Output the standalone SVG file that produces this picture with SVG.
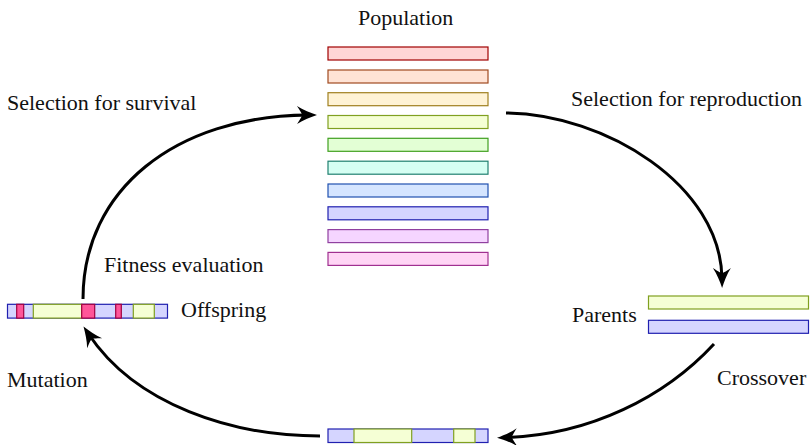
<svg xmlns="http://www.w3.org/2000/svg" width="811" height="445" viewBox="0 0 811 445">
<style>
text{font-family:'Liberation Serif','DejaVu Serif','Times New Roman',Times,serif;font-size:22px;fill:#111}
rect{stroke-width:1.2}
.c1{fill:#ffd5d5;stroke:#a00000}
.c2{fill:#ffe3d5;stroke:#a04a20}
.c3{fill:#fff3d5;stroke:#a08020}
.c4{fill:#f5ffd5;stroke:#80a020}
.c5{fill:#e3ffd5;stroke:#40a020}
.c6{fill:#d5fff3;stroke:#208070}
.c7{fill:#d5e5ff;stroke:#2050b0}
.c8{fill:#d5d5ff;stroke:#2020b0}
.c9{fill:#f5d5ff;stroke:#9040a0}
.c10{fill:#ffd5f5;stroke:#a03090}
.pk{fill:#ff5599;stroke:#a00040}
.arr{fill:none;stroke:#000;stroke-width:3}
</style>
<defs>
<marker id="ah" markerUnits="userSpaceOnUse" markerWidth="40" markerHeight="40" viewBox="-20 -20 40 40" refX="0" refY="0" orient="auto">
<path d="M9,0 C3,-2 -5,-5 -11,-9 C-7,-3 -6,-1 -6,0 C-6,1 -7,3 -11,9 C-5,5 3,2 9,0 Z" fill="#000"/>
</marker>
</defs>
<g id="population">
<text x="358" y="25" font-family="Liberation Serif, serif">Population</text>
<rect class="c1" x="328" y="47" width="160" height="13"/>
<rect class="c2" x="328" y="70" width="160" height="13"/>
<rect class="c3" x="328" y="92.7" width="160" height="13"/>
<rect class="c4" x="328" y="115.5" width="160" height="13"/>
<rect class="c5" x="328" y="138.3" width="160" height="13"/>
<rect class="c6" x="328" y="161.2" width="160" height="13"/>
<rect class="c7" x="328" y="184" width="160" height="13"/>
<rect class="c8" x="328" y="206.8" width="160" height="13"/>
<rect class="c9" x="328" y="229.6" width="160" height="13"/>
<rect class="c10" x="328" y="252.4" width="160" height="13"/>
</g>
<g id="parents">
<text x="572" y="322" font-family="Liberation Serif, serif">Parents</text>
<rect class="c4" x="648.5" y="296" width="160" height="13"/>
<rect class="c8" x="648.5" y="320.3" width="160" height="13"/>
</g>
<g id="child">
<rect class="c8" x="328" y="429" width="160" height="13.5"/>
<rect class="c4" x="354" y="429" width="57.7" height="13.5"/>
<rect class="c4" x="453.7" y="429" width="21.3" height="13.5"/>
</g>
<g id="offspring">
<rect class="c8" x="7.5" y="304.3" width="160" height="13.8"/>
<rect class="pk" x="16.7" y="304.3" width="7" height="13.8"/>
<rect class="c4" x="33.3" y="304.3" width="48.4" height="13.8"/>
<rect class="pk" x="81.7" y="304.3" width="13" height="13.8"/>
<rect class="pk" x="115.7" y="304.3" width="5.6" height="13.8"/>
<rect class="c4" x="133.3" y="304.3" width="21" height="13.8"/>
<text x="181" y="317" font-family="Liberation Serif, serif">Offspring</text>
</g>
<g id="labels" font-family="Liberation Serif, serif">
<text x="7" y="110">Selection for survival</text>
<text x="571" y="106">Selection for reproduction</text>
<text x="104" y="272">Fitness evaluation</text>
<text x="7" y="387">Mutation</text>
<text x="717" y="385">Crossover</text>
</g>
<g id="connectors">
<path class="arr" marker-end="url(#ah)" d="M83,299 C83,190 175,116 308,115"/>
<path class="arr" marker-end="url(#ah)" d="M506,113 C605,114 721,185 722,279"/>
<path class="arr" marker-end="url(#ah)" d="M714,344 C665,397 590,435 506,437.5"/>
<path class="arr" marker-end="url(#ah)" d="M320,436 C232,436 136,405 88.5,334"/>
</g>
</svg>
